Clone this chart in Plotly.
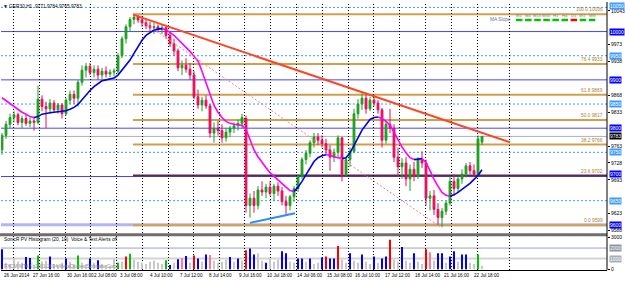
import plotly.graph_objects as go

W, H = 625, 283
FONT = "Liberation Sans"

# ---------------- data ----------------
opens = [9755, 9785, 9808, 9822, 9828, 9812, 9820, 9810, 9815, 9812,
         9860, 9845, 9840, 9852, 9838, 9848, 9830, 9858, 9870, 9862,
         9895, 9920, 9928, 9915, 9922, 9910, 9918, 9912, 9916, 9918,
         9950, 9985, 10010, 10025, 10030, 10024, 10018, 10012, 10008, 10010,
         10004, 10008, 9992, 9975, 9960, 9925, 9930, 9922, 9910, 9865,
         9848, 9858, 9846, 9790, 9800, 9795, 9780, 9792, 9800, 9805,
         9810, 9820, 9640, 9655, 9640, 9672, 9668, 9678, 9665, 9680,
         9670, 9648, 9640, 9658, 9675, 9700, 9735, 9748, 9770, 9782,
         9775, 9768, 9755, 9740, 9750, 9780, 9705, 9735, 9752, 9830,
         9850, 9862, 9840, 9858, 9852, 9838, 9775, 9808, 9800, 9740,
         9720, 9728, 9695, 9715, 9700, 9735, 9728, 9655, 9660, 9632,
         9615, 9628, 9645, 9690, 9675, 9695, 9705, 9722, 9712, 9705,
         9771]
highs = [9790, 9815, 9830, 9835, 9832, 9826, 9828, 9822, 9822, 9888,
         9868, 9855, 9860, 9858, 9852, 9852, 9862, 9878, 9878, 9900,
         9930, 9935, 9935, 9930, 9930, 9925, 9928, 9922, 9924, 9955,
         9990, 10015, 10030, 10036, 10034, 10032, 10026, 10020, 10018, 10015,
         10014, 10010, 10000, 9985, 9965, 9940, 9945, 9935, 9918, 9880,
         9865, 9868, 9850, 9812, 9815, 9808, 9800, 9805, 9812, 9818,
         9830, 9826, 9665, 9670, 9680, 9690, 9685, 9690, 9685, 9688,
         9678, 9660, 9662, 9680, 9705, 9740, 9755, 9775, 9790, 9790,
         9785, 9778, 9765, 9758, 9785, 9782, 9740, 9760, 9840, 9860,
         9872, 9870, 9865, 9866, 9858, 9842, 9815, 9840, 9808, 9760,
         9738, 9740, 9725, 9730, 9740, 9752, 9735, 9670, 9672, 9645,
         9635, 9650, 9700, 9705, 9700, 9715, 9728, 9730, 9725, 9785,
         9784]
lows = [9745, 9778, 9800, 9812, 9806, 9800, 9805, 9802, 9795, 9808,
        9835, 9800, 9830, 9832, 9830, 9820, 9826, 9850, 9850, 9845,
        9888, 9905, 9910, 9905, 9900, 9902, 9905, 9906, 9908, 9912,
        9945, 9975, 10000, 10015, 10018, 10010, 10005, 10000, 9995, 9998,
        9995, 9985, 9968, 9950, 9918, 9910, 9915, 9900, 9860, 9840,
        9835, 9840, 9780, 9770, 9785, 9770, 9772, 9782, 9790, 9795,
        9800, 9625, 9615, 9625, 9632, 9660, 9655, 9660, 9650, 9660,
        9640, 9618, 9630, 9648, 9668, 9695, 9725, 9740, 9760, 9765,
        9760, 9745, 9712, 9730, 9742, 9690, 9700, 9720, 9748, 9820,
        9838, 9830, 9835, 9845, 9830, 9760, 9768, 9790, 9730, 9700,
        9695, 9680, 9670, 9690, 9695, 9718, 9640, 9630, 9620, 9600,
        9595, 9620, 9640, 9660, 9668, 9685, 9698, 9705, 9700, 9700,
        9765]
closes = [9785, 9808, 9822, 9828, 9812, 9820, 9810, 9815, 9812, 9860,
          9845, 9840, 9852, 9838, 9848, 9830, 9858, 9870, 9862, 9895,
          9920, 9928, 9915, 9922, 9910, 9918, 9912, 9916, 9918, 9950,
          9985, 10010, 10025, 10030, 10024, 10018, 10012, 10008, 10010, 10004,
          10008, 9992, 9975, 9960, 9925, 9930, 9922, 9910, 9865, 9848,
          9858, 9846, 9790, 9800, 9795, 9780, 9792, 9800, 9805, 9810,
          9822, 9640, 9655, 9640, 9672, 9668, 9678, 9665, 9680, 9670,
          9648, 9640, 9658, 9675, 9700, 9735, 9748, 9770, 9782, 9775,
          9768, 9755, 9740, 9750, 9780, 9705, 9735, 9752, 9830, 9850,
          9862, 9840, 9858, 9852, 9838, 9775, 9808, 9800, 9740, 9720,
          9728, 9695, 9715, 9700, 9735, 9728, 9655, 9660, 9632, 9615,
          9628, 9645, 9690, 9675, 9695, 9705, 9722, 9712, 9705, 9778,
          9783]
ma = [9863, 9857, 9851, 9845, 9839, 9833, 9829, 9824, 9822, 9824,
      9829, 9831, 9832, 9833, 9834, 9835, 9836, 9839, 9843, 9849,
      9859, 9869, 9878, 9886, 9892, 9898, 9900, 9902, 9904, 9910,
      9920, 9931, 9941, 9955, 9969, 9982, 9992, 9998, 10003, 10005,
      10006, 10004, 9998, 9992, 9984, 9976, 9967, 9959, 9949, 9939,
      9918, 9894, 9867, 9847, 9833, 9822, 9814, 9810, 9808, 9807,
      9806, 9798, 9776, 9755, 9741, 9729, 9718, 9708, 9700, 9692,
      9684, 9678, 9671, 9669, 9678, 9690, 9704, 9718, 9731, 9739,
      9743, 9745, 9744, 9741, 9739, 9737, 9739, 9749, 9763, 9780,
      9796, 9808, 9818, 9822, 9823, 9820, 9814, 9806, 9792, 9776,
      9761, 9749, 9739, 9735, 9736, 9737, 9729, 9712, 9694, 9680,
      9667, 9661, 9659, 9662, 9667, 9673, 9680, 9686, 9694, 9702,
      9714]
volumes = [1900, 600, 500, 1000, 700, 600, 1150, 1050, 400, 1300,
           700, 800, 1200, 500, 400, 600, 1000, 700, 500, 1300,
           600, 500, 1000, 600, 850, 500, 400, 300, 1000, 600,
           700, 1200, 1450, 900, 700, 600, 500, 700, 800, 600,
           500, 850, 400, 600, 950, 1050, 1250, 600, 1300, 1000,
           700, 1400, 1350, 800, 600, 700, 900, 1150, 700, 1000,
           800, 1800, 1950, 1400, 1500, 800, 600, 1050, 700, 900,
           1700, 1500, 700, 600, 1000, 1000, 700, 1000, 500, 600,
           1100, 1200, 1000, 1000, 2200, 900, 600, 1500, 800, 600,
           1400, 700, 500, 1200, 600, 1000, 1200, 2800, 900, 700,
           2100, 800, 600, 1500, 700, 500, 1900, 1600, 800, 1500,
           1500, 600, 1200, 1700, 700, 1400, 1400, 600, 500, 1400,
           300]
vol_class = list("bgggggbbgG" "ggbgggbggG" "ggbgbggggG" "grGggggggg"
                 "gGbgbpbgrb" "gbpggggbgb" "grbbggbggg" "bbggbbgbgg"
                 "brbbrggbgg" "bggbgbbrgg" "bggbggrpgb" "bgbbgbbggG" "g")

price_ticks = [10043, 9973, 9938, 9868, 9833, 9763, 9728, 9693, 9623, 9588]
solid_levels = [10000, 9900, 9800, 9700]
dotted_levels = [10050, 9950, 9850, 9750, 9650]
band_level = 9600
current_price = 9783
fib_start = 32.75
fib_levels = [10036, 9933, 9869, 9817, 9766, 9702, 9599]
fib_names = ["100.0", "76.4", "61.8", "50.0", "38.2", "23.6", "0.0"]
trend_x = [32.75, 127.0]
trend_y = [10035, 9771]
chan_x = [35.25, 109.5]
chan_y = [10020, 9596]
support_x = [62.0, 73.25]
support_y = [9604, 9624]
grid_pos = [2.75, 9.25, 15.75, 22, 28.5, 35, 41.5, 47.75, 54.25, 60.5, 67, 73.5,
            80, 86.5, 92.75, 99.25, 105.75, 112.25, 118.75, 126.75]
time_pos = [0, 7.25, 15.75, 22.4, 29, 36.5, 44, 51.25, 58.75, 65.75, 73.25, 80.75,
            87.75, 95.25, 102.75, 110, 117.5]
time_labels = ["26 Jun 2014", "27 Jun 16:00", "30 Jun 16:00", "2 Jul 08:00", "3 Jul 08:00",
               "4 Jul 10:00", "7 Jul 12:00", "8 Jul 14:00", "9 Jul 16:00", "10 Jul 18:00",
               "14 Jul 06:00", "15 Jul 08:00", "16 Jul 10:00", "17 Jul 12:00", "18 Jul 14:00",
               "21 Jul 16:00", "22 Jul 18:00"]
vol_levels = [1000, 2000]
slope_tf = ["M1", "M5", "M15", "M30", "H1", "H4", "D1", "W1", "MN"]
slope_up = [True, True, True, True, True, True, False, True, True]

idx = list(range(len(closes)))

def px(x):
    return x / W

def py(y):
    return 1 - y / H

fig = go.Figure()

fig.add_trace(go.Candlestick(
    x=idx, open=opens, high=highs, low=lows, close=closes,
    increasing=dict(line=dict(color="#1e9e1e", width=1), fillcolor="#1e9e1e"),
    decreasing=dict(line=dict(color="#e0105a", width=1), fillcolor="#e0105a"),
    whiskerwidth=0, showlegend=False, hoverinfo="skip", xaxis="x", yaxis="y"))

# slope coloured moving average
runs = []
for i in range(len(ma) - 1):
    up = ma[i + 1] > ma[i]
    if runs and runs[-1][0] == up:
        runs[-1][1].append(i + 1)
    else:
        runs.append([up, [i, i + 1]])
for up, pts in runs:
    fig.add_trace(go.Scatter(x=[idx[k] for k in pts], y=[ma[k] for k in pts], mode="lines",
                             line=dict(color="#0000e6" if up else "#ff00ff", width=1.6),
                             showlegend=False, hoverinfo="skip", xaxis="x", yaxis="y"))

fig.add_trace(go.Scatter(x=trend_x, y=trend_y, mode="lines",
                         line=dict(color="#ff4422", width=2), showlegend=False, yaxis="y"))
fig.add_trace(go.Scatter(x=chan_x, y=chan_y, mode="lines",
                         line=dict(color="#ff7a7a", width=1, dash="2px,2px"), showlegend=False, yaxis="y"))
fig.add_trace(go.Scatter(x=support_x, y=support_y, mode="lines",
                         line=dict(color="#2a8cff", width=2), showlegend=False, yaxis="y"))

cmap = {"g": "#c8c8c8", "b": "#0000ff", "G": "#00c000", "r": "#ff0000", "p": "#ff7a96"}
fig.add_trace(go.Bar(x=idx, y=volumes, marker=dict(color=[cmap[c] for c in vol_class], line=dict(width=0)),
                     width=0.45, showlegend=False, hoverinfo="skip", xaxis="x", yaxis="y2"))

shapes = []
for lv in solid_levels:
    shapes.append(dict(type="line", xref="paper", yref="y", x0=px(1), x1=px(607), y0=lv, y1=lv,
                       line=dict(color="#4646ff", width=1), layer="below"))
for lv in dotted_levels:
    shapes.append(dict(type="line", xref="paper", yref="y", x0=px(1), x1=px(607), y0=lv, y1=lv,
                       line=dict(color="#3c9cff", width=1, dash="2px,2px"), layer="below"))
shapes.append(dict(type="line", xref="paper", yref="y", x0=px(1), x1=px(607), y0=band_level, y1=band_level,
                   line=dict(color="#b4b4f0", width=3), layer="below"))
shapes.append(dict(type="line", xref="paper", yref="y", x0=px(1), x1=px(607), y0=current_price, y1=current_price,
                   line=dict(color="#a8b0b8", width=1), layer="below"))
for lv, nm in zip(fib_levels, fib_names):
    col = "#5a2a50" if nm == "23.6" else "#d0a050"
    shapes.append(dict(type="line", xref="x", yref="y", x0=fib_start, x1=151.25, y0=lv, y1=lv,
                       line=dict(color=col, width=2), layer="below"))
for lv, col in zip(vol_levels, ["#d4d4d4", "#9aa6b4"]):
    shapes.append(dict(type="line", xref="paper", yref="y2", x0=px(1), x1=px(607), y0=lv, y1=lv,
                       line=dict(color=col, width=2 if lv == 1000 else 1), layer="below"))
# panel separator and right border
shapes.append(dict(type="rect", xref="paper", yref="paper", x0=0, x1=px(607), y0=py(237.5), y1=py(234.5),
                   fillcolor="#6e6e6e", line=dict(width=0)))
shapes.append(dict(type="line", xref="paper", yref="paper", x0=px(607), x1=px(607), y0=py(272), y1=1,
                   line=dict(color="black", width=1)))
# MA slope dashes
for k, up in enumerate(slope_up):
    x0 = 516 + k * 9.1
    shapes.append(dict(type="rect", xref="paper", yref="paper", x0=px(x0), x1=px(x0 + 6.5),
                       y0=py(19.5), y1=py(17), fillcolor="#00c000" if up else "#ff0000", line=dict(width=0)))

ann = []
def box(y, text, bg, fg="white", yref="y", shift=0):
    ann.append(dict(xref="paper", yref=yref, x=px(608.5), y=y, text=text, showarrow=False, xanchor="left",
                    yanchor="middle", bgcolor=bg, borderpad=0, yshift=shift,
                    font=dict(size=5, color=fg, family=FONT)))

for lv in dotted_levels:
    box(lv, str(lv), "#3d9bff", shift=1 if lv == 10050 else 0)
for lv in solid_levels + [band_level]:
    box(lv, str(lv), "#0000ff", shift=2.5 if lv == 9700 else 0)
box(current_price, str(current_price), "#000000")
box(2000, "2000", "#8c96a2", yref="y2")
box(1000, "1000", "#a6aeb6", yref="y2")

for lv, nm in zip(fib_levels, fib_names):
    ann.append(dict(xref="paper", yref="y", x=px(605), y=lv, text=f"{nm} {lv}", showarrow=False,
                    xanchor="right", yanchor="bottom", yshift=0,
                    font=dict(size=4.8, color="#b08030", family=FONT)))

for p, t in zip(time_pos, time_labels):
    ann.append(dict(xref="x", yref="paper", x=p, y=py(277.5), text=t, showarrow=False, xanchor="left",
                    yanchor="middle", font=dict(size=4.6, color="black", family=FONT)))

ann.append(dict(xref="paper", yref="paper", x=px(1), y=py(4.5), text="\u25bc GER30,H1  9771 9784 9765 9783",
                showarrow=False, xanchor="left", yanchor="middle", font=dict(size=4.8, color="black", family=FONT)))
ann.append(dict(xref="paper", yref="paper", x=px(2), y=py(240.5), text="SonicR PV Histogram (20, 10)  Voice & Text Alerts off",
                showarrow=False, xanchor="left", yanchor="middle", font=dict(size=4.8, color="black", family=FONT)))
ann.append(dict(xref="paper", yref="paper", x=px(2), y=py(268), text="FXCM MT4 \u00a9 2001-2014 MetaQuotes Software Corp.",
                showarrow=False, xanchor="left", yanchor="middle", font=dict(size=4.8, color="#909090", family=FONT)))
ann.append(dict(xref="paper", yref="paper", x=px(513), y=py(17.5), text="MA Slope",
                showarrow=False, xanchor="right", yanchor="middle", font=dict(size=4.8, color="#5a7a9a", family=FONT)))
for k, tf in enumerate(slope_tf):
    ann.append(dict(xref="paper", yref="paper", x=px(519.25 + k * 9.1), y=py(13.5), text=tf,
                    showarrow=False, xanchor="center", yanchor="middle", font=dict(size=4.2, color="#808080", family=FONT)))

fig.update_layout(
    width=W, height=H, margin=dict(l=0, r=0, t=0, b=0),
    paper_bgcolor="white", plot_bgcolor="white", showlegend=False,
    shapes=shapes, annotations=ann,
    xaxis=dict(domain=[px(1), px(607)], range=[-0.25, 151.25], anchor="y2",
               tickvals=grid_pos, showticklabels=False, ticks="",
               showgrid=True, gridcolor="#000000", gridwidth=1, griddash="1px,2px",
               zeroline=False, showline=True, linecolor="black", linewidth=1,
               rangeslider=dict(visible=False)),
    yaxis=dict(domain=[py(234), py(2)], range=[9583.7, 10057.1], anchor="x", side="right",
               tickvals=price_ticks, ticktext=[str(t) for t in price_ticks],
               ticks="outside", ticklen=2, tickcolor="black", showgrid=False, zeroline=False,
               showline=False, tickfont=dict(size=5, color="black", family=FONT)),
    yaxis2=dict(domain=[py(272), py(237.5)], range=[-93, 3131], anchor="x", side="right",
                tickvals=[0, 3000], ticktext=["0", "3000"],
                ticks="outside", ticklen=2, tickcolor="black", showgrid=False, zeroline=False,
                showline=False, tickfont=dict(size=5, color="black", family=FONT)),
    boxgap=0.35,
)

fig.write_html("out.html")
